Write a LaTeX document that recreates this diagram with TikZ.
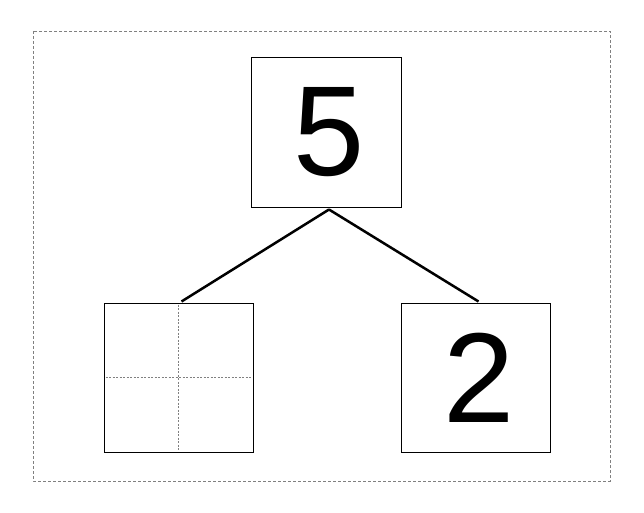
\documentclass[tikz,border=0pt]{standalone}
\usepackage{fontspec}
\setmainfont{Liberation Sans}
\usepackage{tikz}
\tikzset{
  numbox/.style={draw, line width=1pt, minimum size=149pt, inner sep=0pt,
    font=\fontsize{128}{128}\selectfont},
  guide/.style={gray, line width=0.6pt, dash pattern=on 2pt off 1.5pt}
}
\newcommand{\digit}[1]{\hspace*{7pt}#1}
\begin{document}
\begin{tikzpicture}[x=1pt,y=-1pt]
\useasboundingbox (0,0) rectangle (644,513);
% frame
\draw[gray, line width=0.8pt, dash pattern=on 3pt off 2pt] (33,31) rectangle (610,481);
% boxes
\node[numbox, minimum width=150pt] (whole) at (326,132.5) {\digit{5}};
\node[numbox] (partA) at (178.5,377.5) {};
\node[numbox] (partB) at (475.5,377.5) {\digit{2}};
% dotted cross in the empty box
\draw[guide] ([yshift=-2pt]partA.north) -- ([yshift=2pt]partA.south);
\draw[guide] ([xshift=2pt]partA.west) -- ([xshift=-2pt]partA.east);
% branches
\foreach \p in {partA, partB}
  \draw[line width=2.5pt] ([xshift=3pt,yshift=-2pt]whole.south) -- ([xshift=3pt,yshift=1pt]\p.north);
\end{tikzpicture}
\end{document}
